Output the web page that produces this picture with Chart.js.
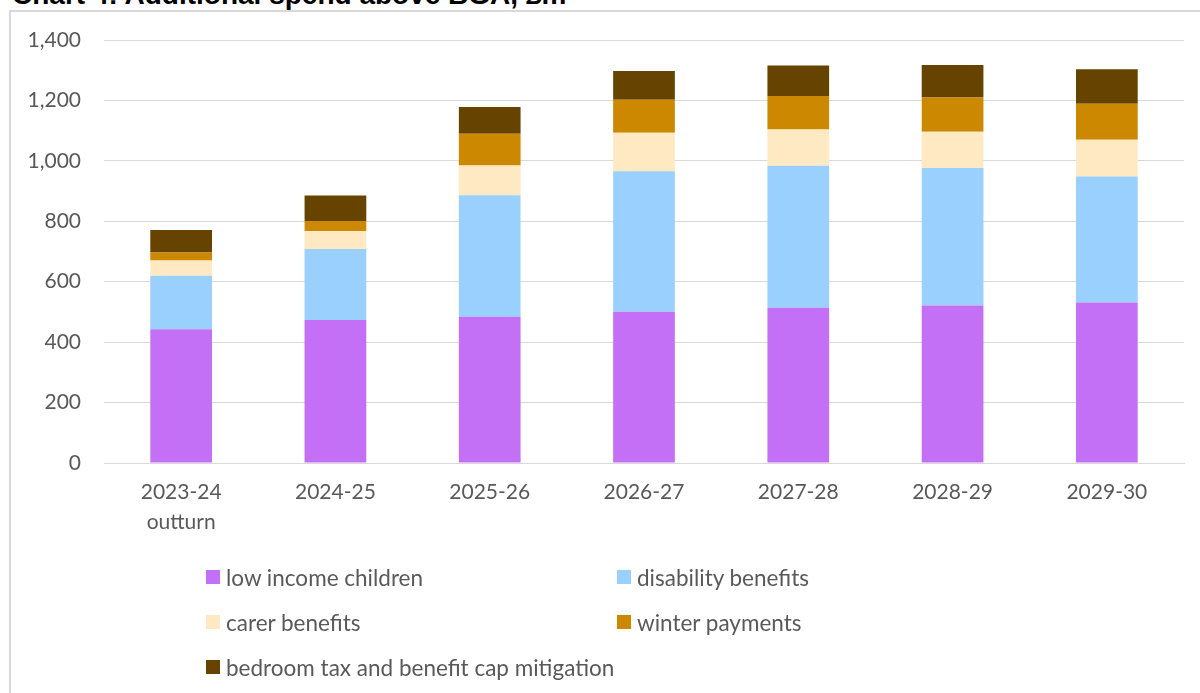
<!DOCTYPE html>
<html>
<head>
<meta charset="utf-8">
<script src="https://cdn.jsdelivr.net/npm/chart.js@4"></script>
<style>
  html, body { margin: 0; padding: 0; background: #ffffff; }
  body { width: 1200px; height: 693px; position: relative; overflow: hidden; font-family: Lato, "Open Sans", sans-serif; }
  .frame { position: absolute; left: 9px; top: 10px; width: 1300px; height: 800px; border: 2px solid #D9D9D9; box-sizing: border-box; }
  .title { position: absolute; left: 12px; top: -19px; font: bold 28px "Liberation Sans", Arial, sans-serif; line-height: 28px; color: #000; white-space: nowrap; }
  .wrap { position: absolute; left: 0; top: 0; width: 1200px; height: 693px; }
  .legend-item { position: absolute; display: flex; align-items: center; height: 26px; font-size: 22.5px; color: #595959; white-space: nowrap; }
  .legend-item .box { width: 14px; height: 14px; margin-right: 6px; flex: none; }
</style>
</head>
<body>
<div class="frame"></div>
<div class="title">Chart 4: Additional spend above BGA, £m</div>
<div class="wrap"><canvas id="chart" width="1200" height="693"></canvas></div>
<div id="legend"></div>
<script>
// Financial years on the horizontal axis (first one is outturn)
const categories = [['2023-24', 'outturn'], '2024-25', '2025-26', '2026-27', '2027-28', '2028-29', '2029-30'];

// Additional spend above BGA by benefit group, £m
const lowIncomeChildren   = [443, 473, 484, 501, 514, 521, 531];
const disabilityBenefits  = [177, 235, 402, 465, 470, 455, 417];
const carerBenefits       = [50, 60, 99, 127, 120, 120, 122];
const winterPayments      = [27, 33, 105, 109, 111, 114, 119];
const bedroomTaxBenefitCap = [74, 84, 88, 95, 101, 107, 114];

const seriesNames = ['low income children', 'disability benefits', 'carer benefits', 'winter payments', 'bedroom tax and benefit cap mitigation'];
const seriesColours = ['#C470F6', '#99D0FE', '#FFE9C2', '#CC8800', '#664400'];
const seriesValues = [lowIncomeChildren, disabilityBenefits, carerBenefits, winterPayments, bedroomTaxBenefitCap];

// Y-axis ticks
const yMin = 0, yMax = 1400, yStep = 200;

const textColour = '#595959';
const gridColour = '#D9D9D9';

function build() {
  Chart.defaults.font.family = 'Lato, "Open Sans", sans-serif';
  Chart.defaults.font.size = 21;
  Chart.defaults.color = textColour;

  const datasets = seriesNames.map((name, i) => ({
    label: name,
    data: seriesValues[i],
    backgroundColor: seriesColours[i],
    borderWidth: 0,
    categoryPercentage: 1.0,
    barPercentage: 0.4
  }));

  const chart = new Chart(document.getElementById('chart'), {
    type: 'bar',
    data: { labels: categories, datasets },
    options: {
      responsive: false,
      animation: false,
      layout: { padding: { left: 0, right: 16, top: 40, bottom: 0 } },
      plugins: { legend: { display: false }, tooltip: { enabled: false } },
      scales: {
        x: {
          stacked: true,
          grid: { display: false, drawTicks: false },
          border: { display: true, color: gridColour, width: 1 },
          ticks: { padding: 15, color: textColour, font: { size: 21, lineHeight: 1.4 }, maxRotation: 0, autoSkip: false },
          afterFit: (s) => { s.height = 230; }
        },
        y: {
          stacked: true,
          min: yMin,
          max: yMax,
          grid: { color: gridColour, lineWidth: 1, drawTicks: false },
          border: { display: false },
          ticks: {
            stepSize: yStep,
            padding: 23,
            color: textColour,
            font: { size: 21 },
            callback: (v) => v.toLocaleString('en-GB')
          },
          afterFit: (s) => { s.width = 104; }
        }
      }
    }
  });

  // Two-column legend below the plot, built from the chart's datasets
  const legend = document.getElementById('legend');
  const colX = [206, 617];
  const rowY = [577, 622, 667];
  chart.data.datasets.forEach((ds, i) => {
    const item = document.createElement('div');
    item.className = 'legend-item';
    item.style.left = colX[i % 2] + 'px';
    item.style.top = (rowY[Math.floor(i / 2)] - 13) + 'px';
    const box = document.createElement('span');
    box.className = 'box';
    box.style.background = ds.backgroundColor;
    const label = document.createElement('span');
    label.textContent = ds.label;
    item.appendChild(box);
    item.appendChild(label);
    legend.appendChild(item);
  });
}

if (document.fonts && document.fonts.load) {
  Promise.all([document.fonts.load('21px Lato'), document.fonts.load('bold 28px "Liberation Sans"')])
    .then(build, build);
} else {
  build();
}
</script>
</body>
</html>
